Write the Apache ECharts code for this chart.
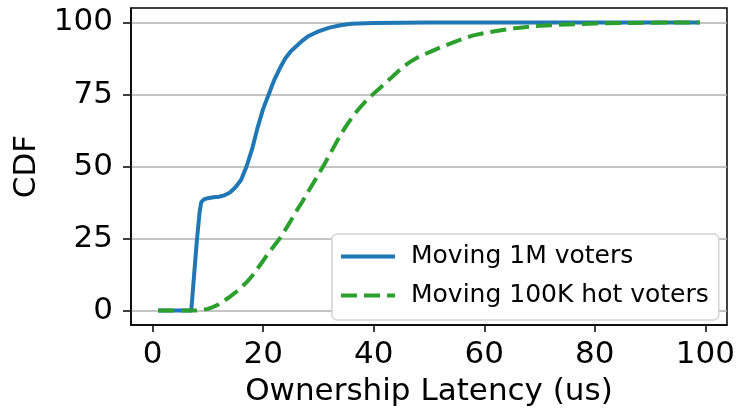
<!DOCTYPE html>
<html>
<head>
<meta charset="utf-8">
<script src="https://cdn.jsdelivr.net/npm/echarts@6/dist/echarts.min.js"></script>
<style>
  html, body { margin: 0; padding: 0; background: #fff; }
  #chart { width: 738px; height: 412px; }
</style>
</head>
<body>
<div id="chart"></div>
<script>
// CDF of ownership latency
const seriesNames = ['Moving 1M voters', 'Moving 100K hot voters'];

const voters1mX = [1, 4, 7, 7.5, 8, 8.5, 8.8, 9.3, 10, 11, 12, 13, 14, 15, 16, 17, 18, 19, 20, 21, 22, 23, 24, 25, 26, 27, 28, 29, 30, 32, 34, 36, 40, 45, 50, 60, 70, 80, 90, 99];
const voters1mY = [0, 0, 0, 12, 24, 34, 37.6, 38.6, 39, 39.3, 39.5, 40, 41, 42.8, 45.3, 50, 56, 63.5, 70, 75, 80, 84, 87.5, 90, 91.7, 93.5, 95, 96, 96.9, 98.2, 99, 99.5, 99.8, 99.9, 100, 100, 100, 100, 100, 100];

const hotVotersX = [1, 4, 8, 9, 10, 11, 12, 13, 14, 15, 16, 17, 18, 19, 20, 21, 22, 23, 24, 25, 26, 27, 28, 29, 30, 31, 32, 33, 34, 35, 36, 37, 38, 39, 40, 41, 42, 43, 44, 45, 46, 47, 48, 50, 52, 55, 58, 60, 63, 66, 70, 75, 80, 85, 90, 99];
const hotVotersY = [0, 0, 0, 0.2, 0.6, 1.3, 2.2, 3.5, 4.8, 6.3, 7.9, 9.8, 12, 14.6, 17.3, 20, 22.5, 25, 28, 31.2, 34.5, 37.5, 40.8, 44, 47.3, 50.5, 54, 57.5, 61, 64, 66.8, 69.3, 71.5, 73.5, 75.3, 77, 78.8, 80.5, 82.3, 84, 85.5, 86.8, 87.9, 89.6, 91.3, 93.5, 95.5, 96.3, 97.3, 98.1, 98.8, 99.3, 99.6, 99.8, 99.9, 100];

const xTicks = [0, 20, 40, 60, 80, 100];
const yTicks = [0, 25, 50, 75, 100];

const zip = (xs, ys) => xs.map((x, i) => [x, ys[i]]);

const font = 'DejaVu Sans';
const chart = echarts.init(document.getElementById('chart'), null, { renderer: 'canvas' });

chart.setOption({
  animation: false,
  textStyle: { fontFamily: font },
  grid: {
    left: 131, right: 9, top: 8, bottom: 86,
    show: true, borderColor: '#000', borderWidth: 1.5
  },
  legend: {
    orient: 'vertical',
    left: 332, top: 234,
    padding: [10, 10, 12, 7],
    backgroundColor: '#fff',
    borderColor: '#d4d4d4',
    borderWidth: 1.5,
    borderRadius: 5,
    itemWidth: 54,
    itemHeight: 20,
    itemGap: 14,
    itemStyle: { opacity: 0 },
    lineStyle: { width: 4 },
    textStyle: { fontFamily: font, fontSize: 25, color: '#000', padding: [0, 0, 0, 11] },
    data: seriesNames
  },
  xAxis: {
    type: 'value',
    min: -3.9, max: 103.9,
    name: 'Ownership Latency (us)',
    nameLocation: 'middle',
    nameGap: 51,
    nameTextStyle: { fontFamily: font, fontSize: 31, color: '#000' },
    axisLine: { onZero: false, lineStyle: { color: '#000', width: 1.5 } },
    axisTick: { customValues: xTicks, length: 7, lineStyle: { color: '#000', width: 1.5 } },
    axisLabel: { customValues: xTicks, fontFamily: font, fontSize: 31, color: '#000', margin: 14 },
    splitLine: { show: false }
  },
  yAxis: {
    type: 'value',
    min: -5, max: 105,
    name: 'CDF',
    nameLocation: 'middle',
    nameGap: 89,
    nameTextStyle: { fontFamily: font, fontSize: 31, color: '#000' },
    axisLine: { show: true, onZero: false, lineStyle: { color: '#000', width: 1.5 } },
    axisTick: { show: true, customValues: yTicks, length: 8, lineStyle: { color: '#000', width: 1.5 } },
    axisLabel: { customValues: yTicks, fontFamily: font, fontSize: 31, color: '#000', margin: 18 },
    splitLine: { show: true, lineStyle: { color: '#b0b0b0', width: 1.5 } }
  },
  series: [
    {
      name: seriesNames[0],
      type: 'line',
      data: zip(voters1mX, voters1mY),
      showSymbol: false,
      symbol: 'none',
      lineStyle: { color: '#1f77b4', width: 4 },
      itemStyle: { color: '#1f77b4' },
      z: 2
    },
    {
      name: seriesNames[1],
      type: 'line',
      data: zip(hotVotersX, hotVotersY),
      showSymbol: false,
      symbol: 'none',
      lineStyle: { color: '#2ca02c', width: 4, type: [16, 7] },
      itemStyle: { color: '#2ca02c' },
      z: 3
    }
  ]
});
</script>
</body>
</html>
